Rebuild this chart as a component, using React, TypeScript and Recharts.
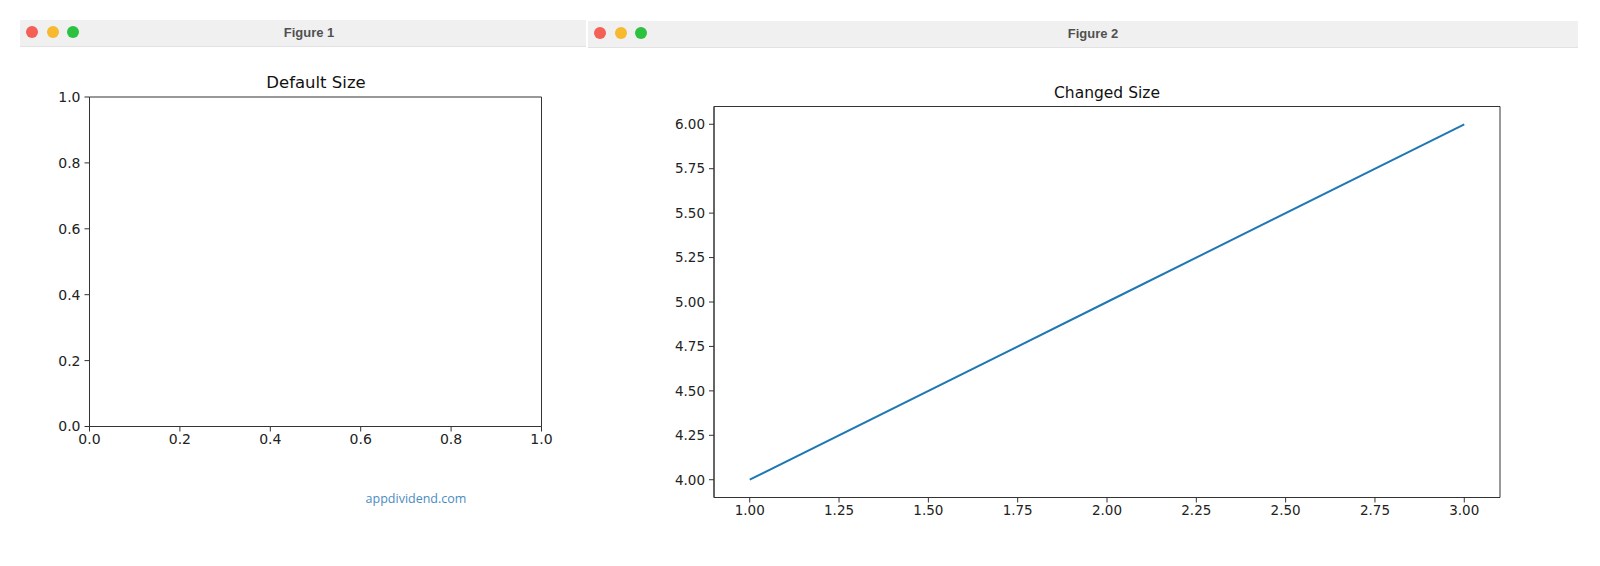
import React from 'react';
import { LineChart, Line, XAxis, YAxis, ReferenceArea } from 'recharts';

// figure 1: empty axes, default 0..1 limits
const fig1Ticks = [0, 0.2, 0.4, 0.6, 0.8, 1.0];
const fig1Lim = [0, 1];
const fig1Data: Array<{ x: number; y: number }> = [];

// figure 2: plt.plot([1, 2, 3], [4, 5, 6])
const fig2X = [1, 2, 3];
const fig2Y = [4, 5, 6];
const fig2XLim = [0.9, 3.1];
const fig2YLim = [3.9, 6.1];
const fig2XTicks = [1, 1.25, 1.5, 1.75, 2, 2.25, 2.5, 2.75, 3];
const fig2YTicks = [4, 4.25, 4.5, 4.75, 5, 5.25, 5.5, 5.75, 6];

const fig2Data = fig2X.map((x, i) => ({ x, y: fig2Y[i] }));

const INK = '#222';
const SPINE = '#333';
const tickFont = { fontFamily: 'DejaVu Sans', fontSize: 14, fill: INK };

const TitleBar: React.FC<{ left: number; top: number; width: number; label: string; shift: number }> = ({
  left,
  top,
  width,
  label,
  shift,
}) => (
  <div
    style={{
      position: 'absolute',
      left,
      top,
      width,
      height: 26,
      background: '#f0f0f0',
      borderBottom: '1px solid #e2e2e2',
    }}
  >
    {['#f45f56', '#f7b92f', '#2cc23f'].map((c, i) => (
      <div
        key={c}
        style={{
          position: 'absolute',
          left: 6 + i * 20.5,
          top: 6,
          width: 12,
          height: 12,
          borderRadius: 6,
          background: c,
        }}
      />
    ))}
    <div
      style={{
        position: 'absolute',
        left: shift,
        right: -shift,
        top: 0,
        lineHeight: '25px',
        textAlign: 'center',
        fontFamily: '"Liberation Sans", Arial, sans-serif',
        fontWeight: 700,
        fontSize: 13,
        color: '#505050',
      }}
    >
      {label}
    </div>
  </div>
);

const AxTitle: React.FC<{ cx: number; cy: number; text: string; size: number }> = ({ cx, cy, text, size }) => (
  <div
    style={{
      position: 'absolute',
      left: cx - 150,
      width: 300,
      top: cy - 12,
      lineHeight: '24px',
      textAlign: 'center',
      fontFamily: 'DejaVu Sans',
      fontSize: size,
      color: '#111',
    }}
  >
    {text}
  </div>
);

export default function App() {
  return (
    <div style={{ position: 'absolute', left: 0, top: 0, width: 1600, height: 566, background: '#fff', overflow: 'hidden' }}>
      <TitleBar left={20} top={20} width={566} label="Figure 1" shift={6} />
      <TitleBar left={588} top={21} width={990} label="Figure 2" shift={10} />

      <AxTitle cx={316} cy={83} text="Default Size" size={16.5} />
      <AxTitle cx={1107} cy={93} text="Changed Size" size={15.5} />

      {/* Figure 1 */}
      <div style={{ position: 'absolute', left: 0, top: 0 }}>
        <LineChart width={600} height={500} data={fig1Data} margin={{ top: 97, right: 58.5, left: 0, bottom: 43.5 }}>
          <XAxis
            dataKey="x"
            type="number"
            domain={fig1Lim}
            ticks={fig1Ticks}
            interval={0}
            tickFormatter={(v: number) => v.toFixed(1)}
            height={30}
            tickSize={5}
            tickMargin={3}
            stroke={SPINE}
            tick={tickFont}
            allowDataOverflow
          />
          <YAxis
            dataKey="y"
            type="number"
            domain={fig1Lim}
            ticks={fig1Ticks}
            interval={0}
            tickFormatter={(v: number) => v.toFixed(1)}
            width={89.5}
            tickSize={5}
            tickMargin={4}
            stroke={SPINE}
            tick={tickFont}
            allowDataOverflow
          />
          {/* axes frame (top/right spines) */}
          <ReferenceArea
            x1={fig1Lim[0]}
            x2={fig1Lim[1]}
            y1={fig1Lim[0]}
            y2={fig1Lim[1]}
            fill="none"
            fillOpacity={0}
            stroke={SPINE}
            strokeWidth={1}
            ifOverflow="visible"
          />
          <Line dataKey="y" stroke="#1f77b4" dot={false} isAnimationActive={false} />
        </LineChart>
      </div>

      <div
        style={{
          position: 'absolute',
          left: 316,
          width: 200,
          top: 489,
          lineHeight: '20px',
          textAlign: 'center',
          fontFamily: '"Open Sans", sans-serif',
          fontSize: 12.5,
          color: '#4a8cc2',
        }}
      >
        appdividend.com
      </div>

      {/* Figure 2 */}
      <div style={{ position: 'absolute', left: 600, top: 0 }}>
        <LineChart width={1000} height={566} data={fig2Data} margin={{ top: 106.5, right: 100, left: 0, bottom: 38.5 }}>
          <XAxis
            dataKey="x"
            type="number"
            domain={fig2XLim}
            ticks={fig2XTicks}
            interval={0}
            tickFormatter={(v: number) => v.toFixed(2)}
            height={30}
            tickSize={5}
            tickMargin={3}
            stroke={SPINE}
            tick={{ ...tickFont, fontSize: 13.5 }}
            allowDataOverflow
          />
          <YAxis
            dataKey="y"
            type="number"
            domain={fig2YLim}
            ticks={fig2YTicks}
            interval={0}
            tickFormatter={(v: number) => v.toFixed(2)}
            width={114}
            tickSize={5}
            tickMargin={4}
            stroke={SPINE}
            tick={{ ...tickFont, fontSize: 13.5 }}
            allowDataOverflow
          />
          <ReferenceArea
            x1={fig2XLim[0]}
            x2={fig2XLim[1]}
            y1={fig2YLim[0]}
            y2={fig2YLim[1]}
            fill="none"
            fillOpacity={0}
            stroke={SPINE}
            strokeWidth={1}
            ifOverflow="visible"
          />
          <Line type="linear" dataKey="y" stroke="#1f77b4" strokeWidth={2} dot={false} isAnimationActive={false} />
        </LineChart>
      </div>
    </div>
  );
}
